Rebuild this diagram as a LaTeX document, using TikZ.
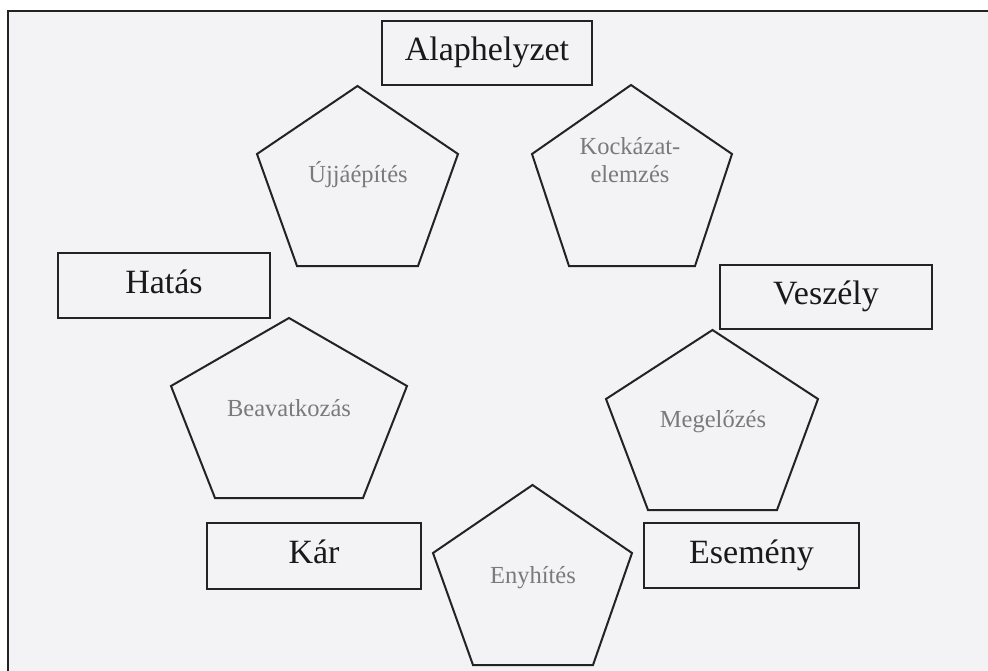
\documentclass[tikz,border=0pt]{standalone}
\usepackage{fontspec}
\setmainfont{Liberation Serif}
\definecolor{bgc}{RGB}{243,243,246}
\definecolor{linec}{RGB}{35,35,35}
\definecolor{labc}{RGB}{25,25,25}
\definecolor{grayc}{RGB}{122,122,126}
\begin{document}
\begin{tikzpicture}[x=1pt,y=-1pt,
  box/.style={draw=linec,line width=1.9pt,inner sep=0pt,
    font=\fontsize{34}{40}\selectfont,text=labc,
    text height=24pt,text depth=9pt,minimum height=65pt},
  pent/.style={draw=linec,line width=2pt,line join=miter},
  ptext/.style={font=\fontsize{24.5}{28}\selectfont,text=grayc,
    align=center,anchor=base,inner sep=0pt}]
\useasboundingbox (0,0) rectangle (988,671);
\fill[white] (0,0) rectangle (988,671);
\fill[bgc] (8,11) rectangle (988,671);
\draw[linec,line width=2.8pt] (988,11) -- (8,11) -- (8,671);

% boxes
\node[box,minimum width=210pt,minimum height=64pt] (alap) at (487,53) {Alaphelyzet};
\node[box,minimum width=212pt] (hatas) at (164,285.5) {Hatás};
\node[box,minimum width=212pt,minimum height=64pt] (veszely) at (826,297) {Veszély};
\node[box,minimum width=214pt,minimum height=66pt] (kar) at (314,556) {Kár};
\node[box,minimum width=215pt] (esemeny) at (751.5,555.5) {Esemény};

% pentagons
\coordinate (p1) at (357.5,86);
\draw[pent] (p1) -- ++(-100.5,68) -- ++(40,112) -- ++(121,0) -- ++(40,-112) -- cycle;
\node[ptext] (t1) at (358,183) {Újjáépítés};

\coordinate (p2) at (631,85);
\draw[pent] (p2) -- ++(-99,69) -- ++(37,112) -- ++(126,0) -- ++(37,-112) -- cycle;
\node[ptext] (t2) at (630,183) {Kockázat-\\elemzés};

\coordinate (p3) at (289,318);
\draw[pent] (p3) -- ++(-118,68) -- ++(44,112) -- ++(148,0) -- ++(44,-112) -- cycle;
\node[ptext] (t3) at (289,416) {Beavatkozás};

\coordinate (p4) at (712.5,330);
\draw[pent] (p4) -- ++(-106.5,69) -- ++(42,111) -- ++(129,0) -- ++(41,-111) -- cycle;
\node[ptext] (t4) at (713,427) {Megelőzés};

\coordinate (p5) at (532.5,485);
\draw[pent] (p5) -- ++(-99.5,68) -- ++(40,112) -- ++(120,0) -- ++(39,-112) -- cycle;
\node[ptext] (t5) at (533,583) {Enyhítés};
\end{tikzpicture}
\end{document}
